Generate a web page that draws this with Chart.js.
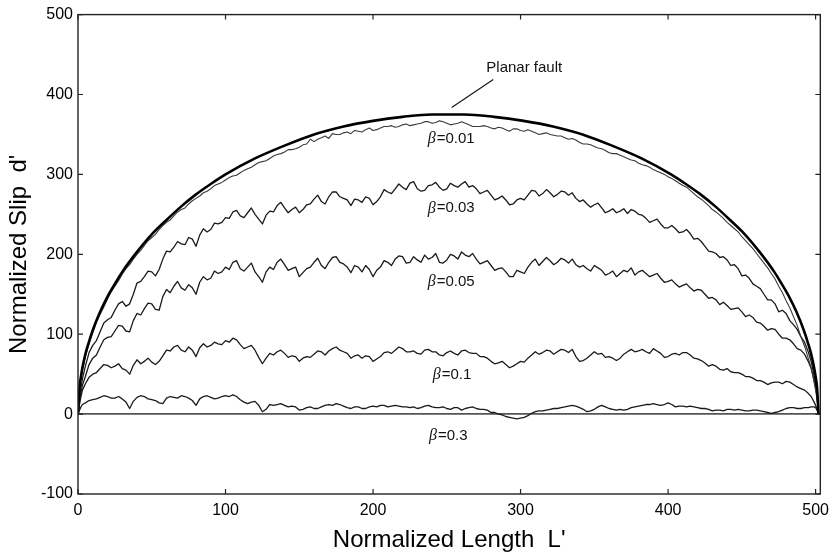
<!DOCTYPE html>
<html>
<head>
<meta charset="utf-8">
<title>Normalized slip profiles</title>
<script src="https://cdn.jsdelivr.net/npm/chart.js@4.4.1/dist/chart.umd.min.js"></script>
<style>
    html, body { margin: 0; padding: 0; background: #fff; }
</style>
</head>
<body>
<canvas id="slipChart" width="836" height="555"></canvas>
<script>
// Positions along the fault (normalized length L'), main samples
const xGrid = [
    0, 1, 2, 3,
    5, 10, 15, 20, 25, 30, 35, 40, 45, 50,
    55, 60, 65, 70, 75, 80, 85, 90, 95, 100,
    105, 110, 115, 120, 125, 130, 135, 140, 145, 150,
    155, 160, 165, 170, 175, 180, 185, 190, 195, 200,
    205, 210, 215, 220, 225, 230, 235, 240, 245, 250,
    255, 260, 265, 270, 275, 280, 285, 290, 295, 300,
    305, 310, 315, 320, 325, 330, 335, 340, 345, 350,
    355, 360, 365, 370, 375, 380, 385, 390, 395, 400,
    405, 410, 415, 420, 425, 430, 435, 440, 445, 450,
    455, 460, 465, 470, 475, 480, 485, 490, 495,
    497, 499, 500, 501, 502
];

// In-between samples (the fine roughness of the profiles)
const xMid = [
    7.5, 12.5, 17.5, 22.5, 27.5, 32.5, 37.5, 42.5, 47.5, 52.5,
    57.5, 62.5, 67.5, 72.5, 77.5, 82.5, 87.5, 92.5, 97.5,
    102.5, 107.5, 112.5, 117.5, 122.5, 127.5, 132.5, 137.5, 142.5, 147.5,
    152.5, 157.5, 162.5, 167.5, 172.5, 177.5, 182.5, 187.5, 192.5, 197.5,
    202.5, 207.5, 212.5, 217.5, 222.5, 227.5, 232.5, 237.5, 242.5, 247.5,
    252.5, 257.5, 262.5, 267.5, 272.5, 277.5, 282.5, 287.5, 292.5, 297.5,
    302.5, 307.5, 312.5, 317.5, 322.5, 327.5, 332.5, 337.5, 342.5, 347.5,
    352.5, 357.5, 362.5, 367.5, 372.5, 377.5, 382.5, 387.5, 392.5, 397.5,
    402.5, 407.5, 412.5, 417.5, 422.5, 427.5, 432.5, 437.5, 442.5, 447.5,
    452.5, 457.5, 462.5, 467.5, 472.5, 477.5, 482.5, 487.5, 492.5
];

const slipBeta001 = [
    0, 30, 44, 55,
    72, 102, 125, 144, 160, 175, 187, 200, 211, 221,
    231, 240, 248, 256, 263, 270, 277, 282, 288, 293,
    298, 302, 307, 312, 316, 320, 325, 328, 331, 334,
    338, 341, 346, 345, 350, 352, 351, 354, 356, 355,
    358, 360, 359, 362, 361, 363, 366, 364, 367, 364,
    363, 366, 362, 360, 361, 358, 359, 356, 357, 355,
    356, 352, 351, 350, 348, 346, 345, 340, 338, 335,
    332, 327, 326, 322, 318, 314, 311, 306, 302, 297,
    292, 286, 280, 272, 265, 256, 249, 240, 232, 222,
    212, 201, 189, 176, 160, 142, 122, 97, 70,
    58, 40, 30, 18, 0
];
const slipBeta001Mid = [
    88, 115, 134, 153, 167, 182, 194, 205, 217, 225,
    236, 243, 253, 258, 267, 273, 279, 286, 290,
    296, 299, 305, 309, 315, 317, 323, 326, 331, 332,
    337, 344, 344, 348, 351, 350, 353, 355, 353, 358,
    356, 360, 361, 360, 363, 362, 364, 366, 365, 366,
    362, 364, 364, 360, 360, 360, 357, 358, 354, 357,
    354, 354, 350, 352, 349, 348, 344, 343, 338, 337,
    333, 330, 326, 324, 320, 317, 312, 309, 304, 300,
    295, 289, 284, 276, 269, 261, 253, 245, 236, 228,
    217, 207, 195, 183, 169, 152, 133, 111, 85
];

const slipBeta003 = [
    0, 20, 33, 44,
    60, 86, 103, 118, 130, 141, 138, 164, 172, 178,
    181, 204, 209, 213, 221, 210, 232, 231, 238, 246,
    253, 248, 252, 250, 238, 254, 261, 258, 256, 252,
    262, 269, 266, 272, 278, 270, 261, 268, 272, 262,
    272, 278, 282, 284, 289, 282, 280, 287, 284, 282,
    286, 288, 284, 282, 278, 274, 270, 268, 263, 270,
    274, 279, 276, 277, 275, 278, 277, 266, 263, 262,
    258, 254, 252, 257, 256, 250, 245, 242, 238, 233,
    232, 228, 226, 220, 210, 203, 196, 193, 187, 173,
    170, 160, 150, 143, 128, 126, 112, 97, 78,
    66, 48, 38, 25, 0
];
const slipBeta003Mid = [
    77, 92, 114, 121, 138, 135, 150, 166, 179, 173,
    194, 203, 216, 212, 219, 224, 228, 239, 240,
    245, 255, 246, 258, 244, 249, 253, 265, 252, 259,
    256, 263, 274, 263, 278, 272, 268, 269, 265, 270,
    266, 281, 276, 288, 281, 291, 279, 286, 290, 280,
    289, 284, 291, 286, 276, 280, 268, 273, 262, 268,
    268, 280, 273, 281, 272, 279, 274, 270, 268, 259,
    264, 252, 257, 254, 251, 254, 249, 240, 244, 233,
    236, 227, 231, 219, 216, 204, 201, 197, 186, 182,
    174, 163, 157, 143, 138, 130, 117, 106, 90
];

const slipBeta005 = [
    0, 16, 27, 36,
    47, 70, 84, 96, 104, 110, 103, 126, 132, 138,
    130, 156, 160, 158, 162, 150, 172, 170, 176, 184,
    190, 182, 184, 178, 165, 184, 190, 187, 182, 172,
    182, 190, 186, 190, 197, 188, 177, 184, 186, 172,
    184, 190, 194, 197, 190, 193, 199, 196, 190, 193,
    198, 203, 197, 194, 190, 186, 182, 178, 172, 178,
    184, 194, 191, 192, 190, 193, 194, 184, 182, 186,
    180, 176, 172, 180, 183, 178, 176, 174, 170, 166,
    163, 161, 158, 156, 150, 146, 137, 136, 132, 128,
    124, 115, 110, 107, 100, 95, 88, 80, 66,
    57, 42, 33, 22, 0
];
const slipBeta005Mid = [
    62, 74, 93, 97, 111, 104, 117, 124, 139, 131,
    147, 152, 166, 155, 158, 165, 168, 179, 178,
    181, 192, 179, 189, 172, 178, 181, 194, 180, 184,
    177, 184, 195, 182, 196, 190, 184, 186, 178, 181,
    180, 192, 186, 198, 189, 197, 190, 194, 201, 189,
    200, 194, 199, 201, 188, 192, 180, 183, 172, 180,
    176, 190, 186, 196, 187, 195, 189, 187, 186, 179,
    183, 174, 179, 176, 178, 174, 180, 172, 176, 165,
    168, 159, 163, 154, 155, 145, 143, 140, 131, 133,
    122, 121, 114, 105, 106, 95, 93, 82, 75
];

const slipBeta01 = [
    0, 12, 22, 30,
    38, 50, 57, 61, 60, 57, 50, 68, 66, 65,
    66, 80, 84, 80, 84, 72, 88, 86, 88, 92,
    95, 87, 84, 80, 63, 76, 78, 76, 73, 66,
    72, 75, 78, 79, 84, 78, 70, 74, 73, 66,
    72, 78, 80, 82, 78, 76, 80, 78, 74, 77,
    76, 79, 77, 76, 72, 66, 64, 62, 60, 66,
    70, 78, 77, 79, 78, 80, 81, 66, 70, 78,
    76, 72, 67, 75, 81, 79, 78, 82, 76, 72,
    76, 77, 74, 69, 64, 62, 56, 57, 52, 50,
    47, 42, 40, 39, 40, 41, 37, 32, 26,
    22, 15, 11, 6, 0
];
const slipBeta01Mid = [
    46, 52, 62, 58, 63, 55, 61, 63, 70, 62,
    73, 79, 86, 78, 80, 83, 84, 90, 87,
    90, 93, 82, 86, 71, 70, 74, 80, 71, 72,
    70, 71, 79, 74, 82, 80, 76, 73, 70, 72,
    69, 77, 76, 84, 78, 79, 75, 81, 78, 73,
    79, 74, 80, 76, 72, 70, 63, 66, 58, 63,
    65, 74, 75, 80, 75, 81, 77, 72, 67, 74,
    75, 71, 70, 70, 78, 78, 81, 76, 79, 71,
    75, 74, 77, 70, 67, 60, 60, 55, 53, 52,
    47, 45, 42, 37, 40, 38, 40, 34, 30
];

const slipBeta03 = [
    0, 5, 9, 12,
    14, 18, 21, 22, 20, 19, 7, 21, 22, 18,
    14, 20, 21, 23, 20, 11, 22, 21, 20, 23,
    24, 18, 13, 16, 3, 12, 12, 11, 10, 5,
    8, 7, 9, 12, 13, 10, 7, 9, 7, 10,
    11, 9, 11, 9, 8, 7, 10, 9, 8, 7,
    8, 5, 8, 7, 6, 2, 0, -3, -5, -5,
    -2, 3, 4, 6, 7, 9, 11, 8, 3, 6,
    11, 7, 5, 5, 8, 10, 12, 13, 11, 14,
    9, 10, 10, 8, 7, 4, 5, 6, 5, 5,
    4, 5, 3, 1, 3, 7, 8, 7, 8,
    9, 9, 8, 5, 0
];
const slipBeta03Mid = [
    17, 19, 23, 20, 22, 15, 16, 23, 19, 17,
    13, 22, 20, 22, 17, 19, 23, 19, 22,
    22, 22, 15, 15, 11, 6, 11, 13, 9, 9,
    6, 9, 7, 11, 11, 12, 8, 9, 7, 9,
    9, 11, 10, 10, 9, 9, 8, 11, 8, 9,
    6, 8, 7, 9, 6, 5, 2, -1, -4, -6,
    -4, 1, 4, 5, 7, 8, 10, 10, 6, 4,
    9, 9, 6, 6, 6, 9, 11, 12, 12, 12,
    12, 10, 9, 9, 7, 6, 5, 4, 6, 6,
    4, 5, 4, 2, 2, 5, 8, 7, 8
];

// Planar fault (smooth elliptical profile)
const planarX = [
    0, 1, 2, 3, 5, 7, 10, 15, 20, 25, 30, 40, 50, 60, 70, 80, 90, 100,
    120, 140, 160, 180, 200, 220, 240, 251,
    262, 282, 302, 322, 342, 362, 382, 402, 412, 422, 432, 442, 452,
    462, 472, 477, 482, 487, 492, 495, 497, 499, 500, 501, 502
];
const planarY = [
    0, 33, 47, 58, 75, 88, 105, 128, 147, 163, 178, 203, 225, 243, 260, 275, 288, 300,
    320, 336, 350, 360, 367, 372, 375, 375,
    375, 372, 367, 360, 350, 336, 320, 300, 288, 275, 260, 243, 225,
    203, 178, 163, 147, 128, 105, 88, 75, 58, 47, 33, 0
];

const seriesLabels = ['\u03B2=0.01', '\u03B2=0.03', '\u03B2=0.05', '\u03B2=0.1', '\u03B2=0.3'];
const labelX = [253, 253, 253, 253.5, 251];
const labelY = [345, 257.5, 165, 49, -27.5];

const xTicks = [0, 100, 200, 300, 400, 500];
const yTicks = [-100, 0, 100, 200, 300, 400, 500];

const SANS = '"Liberation Sans", Arial, Helvetica, sans-serif';

function toPoints(xs, ys) {
    return xs.map((x, i) => ({ x: x, y: ys[i] }));
}

// склеиваем основные и промежуточные отсчёты, сортируем по x
function mergePoints(xs, ys, xm, ym) {
    return toPoints(xs, ys).concat(toPoints(xm, ym)).sort((p, q) => p.x - q.x);
}

// Рамка, внутренние засечки и подписи кривых
const decorations = {
    id: 'decorations',
    afterDatasetsDraw(chart) {
        const { ctx, chartArea: a, scales: { x, y } } = chart;
        ctx.save();

        ctx.strokeStyle = '#222';
        ctx.lineWidth = 1.4;
        ctx.strokeRect(a.left, a.top, a.right - a.left, a.bottom - a.top);

        ctx.lineWidth = 1.2;
        ctx.beginPath();
        xTicks.forEach(v => {
            const px = x.getPixelForValue(v);
            ctx.moveTo(px, a.bottom); ctx.lineTo(px, a.bottom - 5);
            ctx.moveTo(px, a.top); ctx.lineTo(px, a.top + 5);
        });
        yTicks.forEach(v => {
            const py = y.getPixelForValue(v);
            ctx.moveTo(a.left, py); ctx.lineTo(a.left + 5, py);
            ctx.moveTo(a.right, py); ctx.lineTo(a.right - 5, py);
        });
        ctx.stroke();

        // beta labels
        ctx.fillStyle = '#111';
        ctx.textBaseline = 'middle';
        ctx.textAlign = 'left';
        seriesLabels.forEach((txt, i) => {
            const rest = txt.slice(1);
            ctx.font = 'italic 16px "Liberation Serif", serif';
            const wb = ctx.measureText('\u03B2').width;
            ctx.font = '15px ' + SANS;
            const wr = ctx.measureText(rest).width;
            const cx = x.getPixelForValue(labelX[i]);
            const cy = y.getPixelForValue(labelY[i]);
            const left = cx - (wb + wr + 1) / 2;
            ctx.font = 'italic 16px "Liberation Serif", serif';
            ctx.fillText('\u03B2', left, cy);
            ctx.font = '15px ' + SANS;
            ctx.fillText(rest, left + wb + 1, cy);
        });

        // Planar fault label with leader line
        ctx.strokeStyle = '#111';
        ctx.lineWidth = 1.1;
        ctx.beginPath();
        ctx.moveTo(x.getPixelForValue(253.3), y.getPixelForValue(383.75));
        ctx.lineTo(x.getPixelForValue(281.5), y.getPixelForValue(418.75));
        ctx.stroke();
        ctx.font = '15px ' + SANS;
        ctx.fillText('Planar fault', x.getPixelForValue(276.8), y.getPixelForValue(433.75));

        ctx.restore();
    }
};

const noisyStyle = {
    fill: false,
    pointRadius: 0,
    tension: 0,
    borderJoinStyle: 'round'
};

new Chart(document.getElementById('slipChart').getContext('2d'), {
    type: 'line',
    data: {
        datasets: [
            {
                label: 'Planar fault',
                data: toPoints(planarX, planarY),
                borderColor: '#000',
                borderWidth: 2.6,
                pointRadius: 0,
                fill: false,
                cubicInterpolationMode: 'monotone'
            },
            Object.assign({ label: seriesLabels[0], data: mergePoints(xGrid, slipBeta001, xMid, slipBeta001Mid), borderColor: '#3a3a3a', borderWidth: 1.1 }, noisyStyle),
            Object.assign({ label: seriesLabels[1], data: mergePoints(xGrid, slipBeta003, xMid, slipBeta003Mid), borderColor: '#1a1a1a', borderWidth: 1.3 }, noisyStyle),
            Object.assign({ label: seriesLabels[2], data: mergePoints(xGrid, slipBeta005, xMid, slipBeta005Mid), borderColor: '#1a1a1a', borderWidth: 1.3 }, noisyStyle),
            Object.assign({ label: seriesLabels[3], data: mergePoints(xGrid, slipBeta01, xMid, slipBeta01Mid), borderColor: '#1a1a1a', borderWidth: 1.3 }, noisyStyle),
            Object.assign({ label: seriesLabels[4], data: mergePoints(xGrid, slipBeta03, xMid, slipBeta03Mid), borderColor: '#1a1a1a', borderWidth: 1.3 }, noisyStyle)
        ]
    },
    options: {
        responsive: false,
        animation: false,
        events: [],
        layout: { padding: { top: 13, right: 9, left: 0, bottom: 0 } },
        plugins: {
            legend: { display: false },
            tooltip: { enabled: false }
        },
        scales: {
            x: {
                type: 'linear',
                min: 0,
                max: 503.2,
                afterFit: s => { s.height = 61; },
                border: { display: false },
                grid: { display: false, drawTicks: false },
                ticks: {
                    stepSize: 100,
                    includeBounds: false,
                    autoSkip: false,
                    maxRotation: 0,
                    padding: 7,
                    color: '#000',
                    font: { family: SANS, size: 16 }
                },
                afterBuildTicks: s => { s.ticks = xTicks.map(v => ({ value: v })); },
                title: {
                    display: true,
                    text: 'Normalized Length  L\'',
                    color: '#000',
                    font: { family: SANS, size: 24 },
                    padding: { top: 0, bottom: 0 }
                }
            },
            y: {
                type: 'linear',
                min: -100,
                max: 500,
                afterFit: s => { s.width = 78; },
                border: { display: false },
                grid: {
                    drawTicks: false,
                    color: c => (c.tick && c.tick.value === 0 ? '#555' : 'rgba(0,0,0,0)'),
                    lineWidth: c => (c.tick && c.tick.value === 0 ? 1.8 : 0)
                },
                ticks: {
                    stepSize: 100,
                    padding: 5,
                    color: '#000',
                    font: { family: SANS, size: 16 }
                },
                afterBuildTicks: s => { s.ticks = yTicks.map(v => ({ value: v })); },
                title: {
                    display: true,
                    text: 'Normalized Slip  d\'',
                    color: '#000',
                    font: { family: SANS, size: 24 },
                    padding: { top: 5, bottom: 0 }
                }
            }
        }
    },
    plugins: [decorations]
});
</script>
</body>
</html>
